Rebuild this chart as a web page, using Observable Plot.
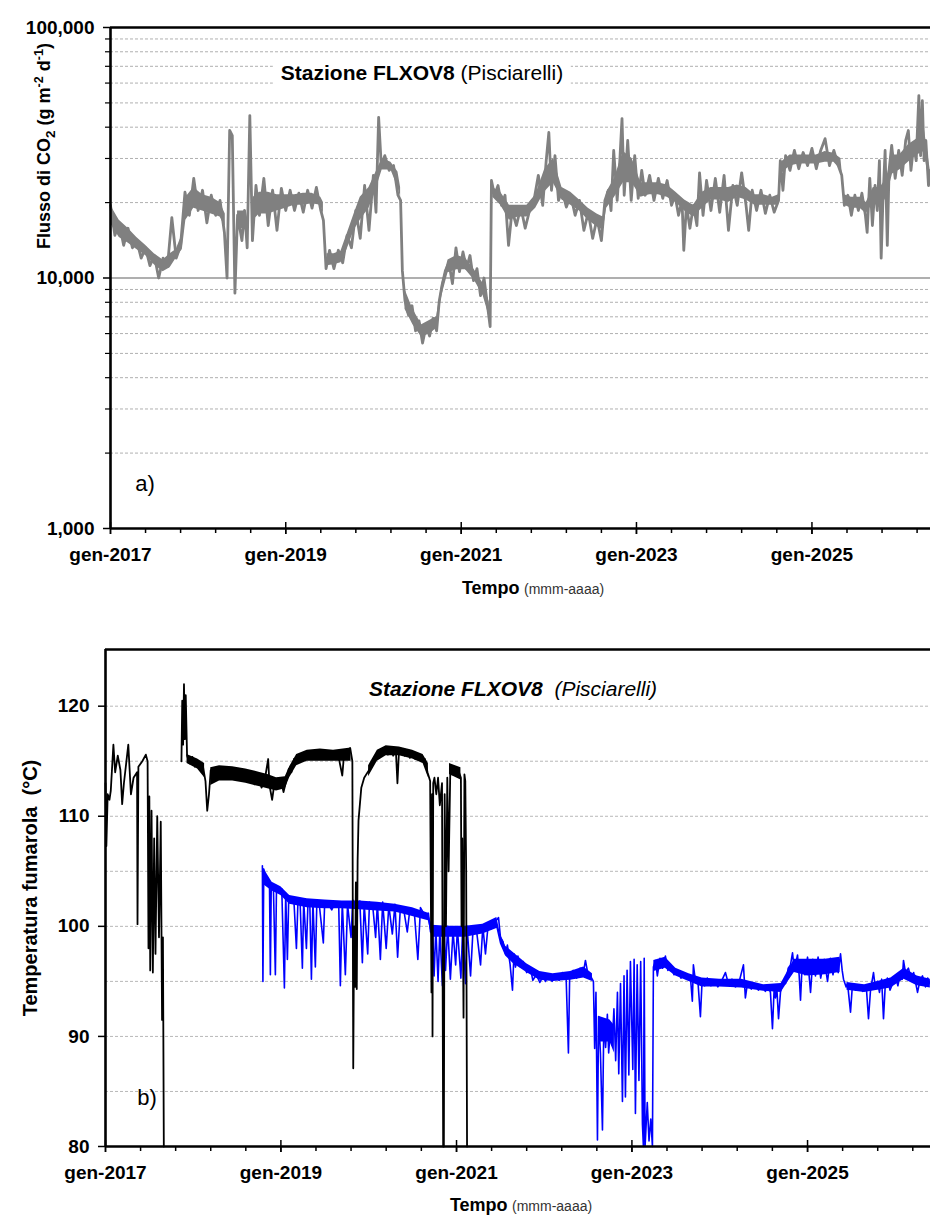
<!DOCTYPE html>
<html><head><meta charset="utf-8">
<script src="https://cdn.jsdelivr.net/npm/d3@7"></script>
<script src="https://cdn.jsdelivr.net/npm/@observablehq/plot@0.6"></script>
<style>
body{margin:0;background:#fff;font-family:"Liberation Sans",Arial,sans-serif;}
#wrap{position:relative;width:930px;height:1216px;overflow:hidden;background:#fff;}
#wrap svg{position:absolute;left:0;}
.abs{position:absolute;white-space:nowrap;color:#000;line-height:1;}
.c{transform:translate(-50%,-50%);}
.rot{transform:translate(-50%,-50%) rotate(-90deg);}
sub,sup{font-size:0.7em;}
</style></head><body><div id="wrap"></div>
<script>
// ---------- DATA ----------
// Panel a) CO2 flux, [decimal year, g m-2 d-1]
const fluxSeries = [
[2017.00,19500],[2017.05,14800],[2017.10,16600],[2017.15,13500],[2017.20,15800],[2017.25,13200],[2017.30,14100],[2017.35,12000],[2017.40,13200],[2017.45,11200],[2017.50,12300],[2017.55,10000],[2017.60,12000],[2017.65,11100],[2017.70,17400],[2017.75,12000],[2017.80,13500],[2017.85,22000],[2017.90,17800],[2017.95,25000],
[2018.00,18600],[2018.05,22400],[2018.10,16600],[2018.15,21400],[2018.20,17800],[2018.25,20400],[2018.30,15200],[2018.33,10000],[2018.36,38800],[2018.39,37000],[2018.42,8700],[2018.45,17800],[2018.50,14100],[2018.53,18600],[2018.56,13200],[2018.59,44500],[2018.62,14100],[2018.66,23400],[2018.70,17800],[2018.75,25000],[2018.80,16200],[2018.85,22400],[2018.90,15500],[2018.95,22800],
[2019.00,18600],[2019.05,22400],[2019.10,18600],[2019.15,21800],[2019.20,18300],[2019.25,22400],[2019.30,19000],[2019.35,23000],[2019.40,18600],[2019.43,17000],[2019.46,10900],[2019.50,12900],[2019.55,10900],[2019.60,12900],[2019.65,11500],[2019.70,14800],[2019.75,13200],[2019.80,18600],[2019.85,14400],[2019.90,23400],[2019.95,15500],
[2020.00,25700],[2020.03,18300],[2020.06,43800],[2020.09,28100],[2020.13,30800],[2020.18,26900],[2020.23,28100],[2020.28,21400],[2020.31,20400],[2020.33,10700],[2020.36,8100],[2020.40,7100],[2020.44,7750],[2020.48,6150],[2020.52,6740],[2020.56,5500],[2020.60,6440],[2020.64,5870],[2020.68,6900],[2020.72,6150],[2020.75,8100],[2020.78,9300],[2020.82,10700],[2020.86,11500],[2020.90,9500],[2020.94,13200],[2020.98,10600],
[2021.02,12700],[2021.06,10900],[2021.10,12300],[2021.14,9760],[2021.18,10900],[2021.22,8500],[2021.26,10000],[2021.30,7750],[2021.33,6400],[2021.345,24500],[2021.38,21400],[2021.42,23400],[2021.46,19500],[2021.50,21400],[2021.54,13500],[2021.58,18600],[2021.63,16200],[2021.68,19200],[2021.73,15800],[2021.78,18600],[2021.83,20400],[2021.88,25700],[2021.93,19500],[2021.97,29400],
[2022.00,38100],[2022.03,22400],[2022.07,30800],[2022.11,20400],[2022.15,22400],[2022.20,19200],[2022.25,21400],[2022.30,17800],[2022.35,20400],[2022.40,15500],[2022.45,18300],[2022.50,14400],[2022.55,17300],[2022.60,14100],[2022.64,20400],[2022.68,22400],[2022.71,18600],[2022.74,32300],[2022.78,20400],[2022.81,29400],[2022.835,43300],[2022.86,21400],[2022.90,35400],[2022.94,20400],[2022.98,30800],
[2023.02,20800],[2023.06,26900],[2023.10,21400],[2023.15,25700],[2023.20,20400],[2023.25,25000],[2023.30,20800],[2023.35,24500],[2023.40,19500],[2023.44,21400],[2023.48,17800],[2023.52,20400],[2023.54,12900],[2023.57,19500],[2023.61,15800],[2023.65,19500],[2023.69,16200],[2023.72,26300],[2023.76,17800],[2023.80,24500],[2023.85,18600],[2023.90,25000],[2023.95,18300],
[2024.00,25700],[2024.05,15500],[2024.10,23400],[2024.15,19500],[2024.20,26300],[2024.25,19500],[2024.28,15500],[2024.32,22400],[2024.37,18600],[2024.42,22400],[2024.47,18100],[2024.52,21400],[2024.57,18300],[2024.62,20400],[2024.64,29400],[2024.67,22400],[2024.70,30800],[2024.75,26900],[2024.80,32300],[2024.85,27300],[2024.90,31700],[2024.95,28100],
[2025.00,32900],[2025.05,27300],[2025.10,32300],[2025.15,36000],[2025.20,28100],[2025.25,32300],[2025.30,28100],[2025.34,25700],[2025.37,19500],[2025.41,21400],[2025.45,17800],[2025.49,21400],[2025.53,18600],[2025.57,21800],[2025.61,17800],[2025.63,15200],[2025.66,25000],[2025.69,16200],[2025.72,23400],[2025.745,18600],[2025.77,29400],[2025.79,12000],[2025.81,20400],[2025.835,32300],[2025.86,13500],[2025.88,26900],[2025.91,33800],[2025.95,25000],[2025.99,32300],
[2026.03,25700],[2026.07,35400],[2026.10,38800],[2026.13,26900],[2026.16,33800],[2026.19,29400],[2026.22,53500],[2026.24,30800],[2026.26,51000],[2026.28,29400],[2026.30,35400],[2026.33,23400],[2026.35,26900]
];
// dense core of the flux record: [decimal year, low, high] (NaN = gap)
const fluxBand = [
[2017.00,16500,19500],[2017.10,14500,17000],[2017.20,13800,15800],[2017.30,13000,14500],[2017.40,12300,13500],[2017.50,11300,12500],[2017.60,10600,11800],[2017.68,11000,12500],[2017.75,12000,13000],[2017.82,13000,15000],[2017.86,17000,21000],[2017.95,19000,23000],
[2018.05,18500,21500],[2018.15,18000,21000],[2018.25,17500,20000],[2018.31,16000,18000],[2018.32,NaN,NaN],[2018.45,16000,18500],[2018.55,15500,18500],[2018.57,NaN,NaN],[2018.63,17000,21000],[2018.70,18000,22000],[2018.80,18000,22000],[2018.90,18500,21500],
[2019.00,19000,21500],[2019.10,19500,21500],[2019.20,19500,21800],[2019.30,19800,21800],[2019.40,19500,21000],[2019.43,18000,20000],[2019.44,NaN,NaN],[2019.47,11200,12500],[2019.55,11300,12500],[2019.63,11500,12800],[2019.70,13000,15000],[2019.78,15500,18000],[2019.85,17000,21000],[2019.95,19000,23000],
[2020.02,22000,26000],[2020.10,27000,30000],[2020.20,27000,29000],[2020.28,23000,26500],[2020.31,21000,23000],[2020.32,NaN,NaN],[2020.36,7500,9000],[2020.45,6500,7500],[2020.55,5800,6500],[2020.65,6000,6800],[2020.72,6300,7000],[2020.78,8500,9500],[2020.85,10500,11800],[2020.95,10800,12300],
[2021.05,10800,12000],[2021.15,9800,10800],[2021.25,8500,9500],[2021.32,7000,8000],[2021.33,NaN,NaN],[2021.36,21000,23000],[2021.45,19500,22000],[2021.55,17000,19500],[2021.65,17500,19500],[2021.75,17500,19500],[2021.85,19000,21500],[2021.95,22000,27000],
[2022.05,24000,30000],[2022.15,20500,23000],[2022.25,19500,22000],[2022.35,18500,20500],[2022.45,17000,19000],[2022.55,16000,18000],[2022.62,15500,17500],[2022.66,19000,22000],[2022.75,21000,25000],[2022.85,24000,32000],[2022.95,24000,30000],
[2023.05,21000,24000],[2023.15,21500,24000],[2023.25,21500,24000],[2023.35,21000,23500],[2023.45,20000,22000],[2023.55,18500,20500],[2023.65,17500,19500],[2023.75,19000,22000],[2023.85,20500,23000],[2023.95,20500,23000],
[2024.05,20000,23000],[2024.15,21000,23500],[2024.25,20500,23000],[2024.35,19500,21500],[2024.45,19500,21500],[2024.55,19500,21000],[2024.62,19500,21500],[2024.65,26000,29000],[2024.75,28000,31000],[2024.85,28500,31000],[2024.95,28500,31000],
[2025.05,28500,31000],[2025.15,29000,32000],[2025.25,29000,31500],[2025.33,27000,30000],[2025.37,19500,21500],[2025.45,19000,21000],[2025.55,19000,21000],[2025.62,18000,20000],[2025.70,20000,23000],[2025.78,19000,23000],[2025.85,21000,25000],[2025.92,26000,31000],
[2026.00,27000,31000],[2026.10,29000,34000],[2026.20,31000,36000],[2026.28,32000,40000],[2026.35,23000,27000]
];
const fluxMajorTicks = [1000, 10000, 100000];
const fluxGrid = [2000,3000,4000,5000,6000,7000,8000,9000,20000,30000,40000,50000,60000,70000,80000,90000];
const fluxDomain = [1000, 100000];

// Panel b) fumarole temperature, [decimal year, °C]
const tempBlackEarly = [
[2017.000,113.0],[2017.010,107.3],[2017.025,112.0],[2017.045,111.5],[2017.060,112.3],[2017.090,116.5],[2017.110,114.0],[2017.140,115.5],[2017.170,114.2],[2017.190,111.1],[2017.210,113.0],[2017.260,116.5],[2017.290,112.0],[2017.320,113.5],[2017.360,114.0],[2017.365,100.2],[2017.375,114.5],[2017.420,115.0],[2017.460,115.6],[2017.480,115.0],[2017.490,98.0],[2017.500,111.8],[2017.510,96.0],[2017.525,110.5],[2017.540,95.8],[2017.555,108.0],[2017.570,97.5],[2017.590,110.0],[2017.610,99.0],[2017.630,109.5],[2017.645,91.5],[2017.655,99.0],[2017.665,80.0]
];
const tempBlackLate = [
[2017.866,115.0],[2017.875,120.5],[2017.885,116.5],[2017.895,122.0],[2017.905,117.0],[2017.915,121.0],[2017.930,115.5],[2017.960,114.8],[2017.990,115.4],[2018.020,114.5],[2018.050,115.0],[2018.080,114.3],[2018.110,114.6],[2018.140,113.2],[2018.160,110.5],[2018.180,112.0],[2018.200,114.2],[2018.230,113.3],[2018.260,114.4],[2018.300,113.5],[2018.340,114.3],[2018.380,113.6],[2018.420,114.3],[2018.460,113.5],[2018.500,114.2],[2018.540,113.4],[2018.580,114.0],[2018.620,113.2],[2018.660,113.9],[2018.700,112.9],[2018.740,113.7],[2018.780,112.6],[2018.820,113.5],[2018.855,115.2],[2018.870,112.8],[2018.900,111.5],[2018.930,113.2],[2018.960,112.6],[2019.000,113.3],[2019.030,112.2],[2019.060,113.2],[2019.090,114.3],[2019.120,114.0],[2019.150,115.2],[2019.190,114.9],[2019.230,115.6],[2019.270,115.3],[2019.310,115.9],[2019.350,115.2],[2019.390,116.0],[2019.430,115.3],[2019.470,116.0],[2019.510,115.4],[2019.550,115.9],[2019.590,115.2],[2019.630,115.8],[2019.665,115.1],[2019.700,113.7],[2019.720,115.6],[2019.760,115.2],[2019.790,116.2],[2019.815,115.0],[2019.825,87.1],[2019.835,100.0],[2019.845,94.5],[2019.855,104.0],[2019.865,94.3],[2019.875,106.0],[2019.885,109.6],[2019.917,112.6],[2019.950,113.5],[2019.997,114.1],[2020.060,115.0],[2020.134,115.7],[2020.191,116.3],[2020.220,115.6],[2020.250,116.2],[2020.280,115.5],[2020.310,116.0],[2020.328,113.0],[2020.345,115.8],[2020.380,116.1],[2020.410,115.5],[2020.440,116.0],[2020.470,115.3],[2020.500,115.8],[2020.530,115.2],[2020.560,115.6],[2020.600,115.0],[2020.640,115.2],[2020.670,114.0],[2020.700,113.2],[2020.715,94.0],[2020.722,112.0],[2020.727,90.0],[2020.735,113.0],[2020.749,113.5],[2020.770,112.0],[2020.790,113.5],[2020.810,111.0],[2020.835,113.0],[2020.848,80.0],[2020.856,80.0],[2020.865,112.0],[2020.880,100.0],[2020.895,113.5],[2020.910,105.0],[2020.930,114.5],[2020.950,113.8],[2020.970,114.3],[2020.990,113.9],[2021.020,114.2],[2021.050,113.5],[2021.057,100.0],[2021.065,108.0],[2021.080,91.7],[2021.090,113.8],[2021.100,113.2],[2021.110,105.0],[2021.120,80.0]
];
// dense core of the black record: [decimal year, low, high]
const tempBlackBand = [
[2017.93,114.8,115.6],[2018.05,114.3,115.2],[2018.13,113.5,114.8],[2018.15,NaN,NaN],[2018.20,112.8,114.4],[2018.30,113.2,114.6],[2018.45,113.2,114.5],[2018.60,113.0,114.3],[2018.75,112.7,114.0],[2018.85,112.5,113.8],[2018.95,112.3,113.5],[2019.05,112.5,113.6],[2019.10,113.5,114.5],[2019.18,114.6,115.6],[2019.30,115.0,116.0],[2019.45,115.0,116.1],[2019.60,115.0,116.0],[2019.80,115.0,116.2],[2019.81,NaN,NaN],
[2020.00,113.6,114.6],[2020.10,115.0,116.0],[2020.20,115.5,116.4],[2020.35,115.5,116.3],[2020.50,115.2,116.0],[2020.62,114.8,115.6],[2020.68,113.5,114.8],[2020.69,NaN,NaN],[2020.92,113.8,114.8],[2021.05,113.3,114.4]
];
const tempBlue = [
[2018.789,105.5],[2018.795,95.0],[2018.805,105.2],[2018.820,104.6],[2018.846,104.4],[2018.870,103.8],[2018.880,95.6],[2018.890,103.8],[2018.915,103.4],[2018.937,95.6],[2018.950,103.6],[2018.985,103.2],[2019.010,103.4],[2019.040,94.4],[2019.055,103.0],[2019.074,97.0],[2019.090,102.8],[2019.110,102.3],[2019.131,102.6],[2019.150,102.1],[2019.177,98.0],[2019.195,102.4],[2019.220,102.0],[2019.245,96.2],[2019.260,102.3],[2019.291,98.0],[2019.310,102.4],[2019.330,102.0],[2019.348,95.2],[2019.365,102.3],[2019.393,96.3],[2019.410,102.2],[2019.440,101.8],[2019.484,98.5],[2019.500,102.3],[2019.540,102.0],[2019.580,101.5],[2019.620,102.2],[2019.660,101.7],[2019.678,94.6],[2019.700,102.2],[2019.735,95.6],[2019.760,102.0],[2019.800,99.0],[2019.820,102.4],[2019.860,101.8],[2019.900,102.3],[2019.929,96.7],[2019.950,102.0],[2019.990,97.5],[2020.010,102.2],[2020.050,101.6],[2020.080,99.0],[2020.100,102.1],[2020.134,97.0],[2020.160,102.2],[2020.200,98.0],[2020.230,101.9],[2020.270,99.3],[2020.300,102.0],[2020.330,97.2],[2020.362,101.8],[2020.400,101.5],[2020.440,99.5],[2020.470,101.6],[2020.520,101.3],[2020.560,97.0],[2020.590,101.7],[2020.640,101.0],[2020.680,101.2],[2020.704,99.5],[2020.727,100.0],[2020.745,95.5],[2020.765,99.8],[2020.790,95.0],[2020.810,99.6],[2020.840,94.6],[2020.860,99.8],[2020.875,96.0],[2020.900,100.0],[2020.930,95.2],[2020.960,99.6],[2020.990,96.5],[2021.010,99.8],[2021.050,95.3],[2021.070,99.9],[2021.103,94.8],[2021.120,100.0],[2021.160,95.5],[2021.190,100.0],[2021.230,99.5],[2021.274,96.5],[2021.300,100.0],[2021.330,97.5],[2021.360,100.1],[2021.400,99.8],[2021.440,100.4],[2021.479,100.8],[2021.501,99.0],[2021.530,98.6],[2021.558,97.5],[2021.580,98.3],[2021.610,96.6],[2021.638,94.2],[2021.655,97.5],[2021.672,96.3],[2021.700,97.3],[2021.730,96.3],[2021.760,96.8],[2021.800,95.8],[2021.843,96.2],[2021.870,95.1],[2021.910,95.6],[2021.950,94.9],[2021.990,95.5],[2022.014,95.0],[2022.050,95.6],[2022.090,95.0],[2022.130,95.5],[2022.170,95.1],[2022.210,95.8],[2022.250,95.3],[2022.276,88.5],[2022.290,95.4],[2022.330,96.0],[2022.370,95.3],[2022.410,96.2],[2022.440,95.5],[2022.470,96.9],[2022.500,95.6],[2022.527,95.5],[2022.561,95.0],[2022.575,88.9],[2022.590,94.0],[2022.607,80.6],[2022.620,91.8],[2022.641,88.5],[2022.664,81.5],[2022.680,91.5],[2022.700,89.0],[2022.720,92.0],[2022.735,88.5],[2022.755,90.8],[2022.775,89.2],[2022.795,92.5],[2022.815,87.8],[2022.835,94.0],[2022.850,86.6],[2022.870,94.8],[2022.892,84.1],[2022.910,95.5],[2022.926,84.5],[2022.945,96.0],[2022.965,86.5],[2022.983,96.8],[2023.010,87.0],[2023.025,97.0],[2023.040,83.0],[2023.060,96.5],[2023.080,86.0],[2023.100,96.8],[2023.120,82.0],[2023.131,80.0],[2023.140,97.1],[2023.150,80.0],[2023.175,84.0],[2023.195,80.5],[2023.215,82.5],[2023.234,80.0],[2023.245,96.3],[2023.270,96.9],[2023.290,95.5],[2023.320,97.1],[2023.350,96.2],[2023.382,97.3],[2023.410,96.0],[2023.439,96.4],[2023.480,95.6],[2023.520,96.0],[2023.560,95.3],[2023.600,95.6],[2023.640,95.2],[2023.667,95.4],[2023.689,93.2],[2023.701,96.5],[2023.725,95.0],[2023.750,95.3],[2023.781,91.8],[2023.800,95.0],[2023.830,94.6],[2023.860,95.3],[2023.900,94.6],[2023.940,95.1],[2023.980,94.5],[2024.020,95.0],[2024.066,95.8],[2024.100,94.8],[2024.140,95.2],[2024.180,94.5],[2024.220,94.9],[2024.271,96.5],[2024.293,93.5],[2024.316,94.8],[2024.360,94.3],[2024.400,94.7],[2024.440,94.2],[2024.480,94.6],[2024.520,94.1],[2024.560,94.4],[2024.578,94.0],[2024.601,90.7],[2024.620,94.3],[2024.635,93.5],[2024.650,94.5],[2024.670,91.6],[2024.692,94.0],[2024.720,95.0],[2024.750,94.8],[2024.780,96.2],[2024.806,96.5],[2024.829,97.6],[2024.850,96.0],[2024.886,97.4],[2024.905,95.5],[2024.920,93.3],[2024.940,96.8],[2024.970,95.6],[2025.000,97.2],[2025.034,94.0],[2025.060,97.0],[2025.090,95.5],[2025.120,97.2],[2025.150,95.3],[2025.190,97.0],[2025.228,95.0],[2025.260,97.1],[2025.290,95.6],[2025.320,96.9],[2025.350,95.8],[2025.376,97.5],[2025.395,96.0],[2025.410,95.2],[2025.440,94.5],[2025.456,94.8],[2025.490,92.2],[2025.510,94.5],[2025.550,94.2],[2025.590,94.6],[2025.630,94.1],[2025.670,94.5],[2025.695,91.6],[2025.718,94.2],[2025.752,95.8],[2025.775,94.3],[2025.798,95.0],[2025.820,94.0],[2025.845,95.2],[2025.866,91.6],[2025.885,94.5],[2025.910,95.3],[2025.940,94.2],[2025.980,95.0],[2026.003,95.5],[2026.030,94.6],[2026.060,95.8],[2026.080,95.2],[2026.094,96.9],[2026.117,95.8],[2026.150,96.2],[2026.180,95.3],[2026.210,95.8],[2026.254,94.0],[2026.280,95.0],[2026.311,95.5],[2026.345,94.5],[2026.370,95.3],[2026.402,94.7]
];
// dense core of the blue record: [decimal year, low, high]
const tempBlueBand = [
[2018.80,103.8,105.3],[2018.90,103.2,104.0],[2019.00,102.8,103.6],[2019.10,102.0,102.8],[2019.30,101.7,102.5],[2019.50,101.6,102.4],[2019.70,101.6,102.3],[2019.90,101.5,102.3],[2020.10,101.4,102.2],[2020.30,101.3,102.0],[2020.50,100.9,101.7],[2020.68,100.5,101.2],
[2020.72,99.0,100.1],[2020.90,99.0,100.0],[2021.10,99.0,100.0],[2021.30,99.3,100.2],[2021.46,99.8,100.8],[2021.50,98.4,99.3],[2021.56,97.3,98.2],[2021.65,96.6,97.6],[2021.80,95.8,96.6],[2021.95,95.1,95.9],[2022.10,95.0,95.7],[2022.30,95.1,95.9],[2022.45,95.3,96.3],[2022.55,95.0,95.7],[2022.56,NaN,NaN],
[2022.63,89.5,91.8],[2022.75,89.5,91.5],[2022.80,88.5,91.0],[2022.81,NaN,NaN],
[2023.25,95.9,96.9],[2023.38,96.2,97.2],[2023.50,95.5,96.2],[2023.65,95.0,95.7],[2023.80,94.5,95.3],[2024.00,94.5,95.2],[2024.25,94.4,95.2],[2024.50,94.1,94.7],[2024.70,94.0,94.8],[2024.78,95.0,96.0],[2024.85,95.8,97.0],[2025.00,95.5,97.0],[2025.20,95.6,97.0],[2025.37,95.8,97.2],[2025.40,NaN,NaN],
[2025.45,94.2,94.9],[2025.65,94.0,94.7],[2025.80,94.2,95.0],[2025.95,94.4,95.3],[2026.10,95.2,96.2],[2026.25,94.6,95.5],[2026.40,94.4,95.2]
];
const tempMajorTicks = [80, 90, 100, 110, 120];
const tempGrid = [85, 90, 95, 100, 105, 110, 115, 120];
const tempDomain = [80, 125.15];

// Shared time axis
const xMajorYears = [2017, 2019, 2021, 2023, 2025];
const xMinorYears = [2017.4,2017.8,2018.2,2018.6,2019.4,2019.8,2020.2,2020.6,2021.4,2021.8,2022.2,2022.6,2023.4,2023.8,2024.2,2024.6,2025.4,2025.8,2026.2];
const xStartYear = 2017;
const xEndYearA = 2026.353;
const xEndYearB = 2026.402;

// ---------- HELPERS ----------
function toDate(yr){const y=Math.floor(yr);const s=Date.UTC(y,0,1),e=Date.UTC(y+1,0,1);return new Date(s+(yr-y)*(e-s));}
const majorDates = xMajorYears.map(toDate);
const minorDates = xMinorYears.map(toDate);
const fmtX = d => "gen-" + d.getUTCFullYear();
const font = "'Liberation Sans', Arial, sans-serif";
const X = d => toDate(d[0]), Y = d => d[1], LO = d => d[1], HI = d => d[2];

function timeAxes(ymin){
  return [
    Plot.axisX({ticks: minorDates, tickSize: 5, tickFormat: () => "", label: null, stroke: "#000", strokeWidth: 1.5}),
    Plot.axisX({ticks: majorDates, tickSize: 6, tickPadding: 13, tickFormat: fmtX, fontSize: 19, fontWeight: "bold", fill: "#000", label: null, stroke: "#000", strokeWidth: 1.5}),
    Plot.ruleX(majorDates, {x: d => d, y1: ymin, y2: ymin, insetTop: -6, insetBottom: -6, stroke: "#000", strokeWidth: 1.5})
  ];
}

// ---------- PANEL A ----------
const plotA = Plot.plot({
  width: 930, height: 600,
  marginLeft: 110, marginRight: 0, marginTop: 27, marginBottom: 72,
  style: {fontFamily: font, background: "transparent", color: "#000", overflow: "visible"},
  x: {type: "utc", domain: [toDate(xStartYear), toDate(xEndYearA)]},
  y: {type: "log", domain: fluxDomain},
  marks: [
    Plot.ruleY(fluxGrid, {stroke: "#b0b0b0", strokeWidth: 1, strokeDasharray: "3,2"}),
    Plot.ruleY([10000], {stroke: "#606060", strokeWidth: 1.2}),
    Plot.areaY(fluxBand, {x: X, y1: LO, y2: HI, fill: "#808080", curve: "linear"}),
    Plot.line(fluxSeries, {x: X, y: Y, stroke: "#808080", strokeWidth: 2.8, strokeLinejoin: "round"}),
    Plot.axisY({ticks: fluxGrid, tickSize: 5, tickFormat: () => "", label: null, strokeWidth: 1.2}),
    Plot.axisY({ticks: fluxMajorTicks, tickSize: 7, tickPadding: 9, tickFormat: d3.format(","), fontSize: 19, fontWeight: "bold", fill: "#000", label: null, strokeWidth: 1.5}),
    ...timeAxes(fluxDomain[0]),
    Plot.ruleX([toDate(xStartYear)], {stroke: "#000", strokeWidth: 2.6}),
    Plot.ruleY([fluxDomain[0]], {stroke: "#000", strokeWidth: 2.6}),
    Plot.ruleY([fluxDomain[1]], {stroke: "#000", strokeWidth: 2.6})
  ]
});

// ---------- PANEL B ----------
const plotB = Plot.plot({
  width: 930, height: 616,
  marginLeft: 105, marginRight: 0, marginTop: 49, marginBottom: 70,
  style: {fontFamily: font, background: "transparent", color: "#000", overflow: "visible"},
  x: {type: "utc", domain: [toDate(xStartYear), toDate(xEndYearB)]},
  y: {domain: tempDomain},
  marks: [
    Plot.ruleY(tempGrid, {stroke: "#b8b8b8", strokeWidth: 1, strokeDasharray: "3,2"}),
    Plot.areaY(tempBlueBand, {x: X, y1: LO, y2: HI, fill: "#0000ff"}),
    Plot.line(tempBlue, {x: X, y: Y, stroke: "#0000ff", strokeWidth: 1.6, strokeLinejoin: "round"}),
    Plot.areaY(tempBlackBand, {x: X, y1: LO, y2: HI, fill: "#000"}),
    Plot.line(tempBlackEarly, {x: X, y: Y, stroke: "#000", strokeWidth: 1.8, strokeLinejoin: "round"}),
    Plot.line(tempBlackLate, {x: X, y: Y, stroke: "#000", strokeWidth: 1.8, strokeLinejoin: "round"}),
    Plot.axisY({ticks: tempMajorTicks, tickSize: 7, tickPadding: 9, fontSize: 19, fontWeight: "bold", fill: "#000", label: null, strokeWidth: 1.5}),
    ...timeAxes(tempDomain[0]),
    Plot.ruleX([toDate(xStartYear)], {stroke: "#000", strokeWidth: 2.6}),
    Plot.ruleY([tempDomain[0]], {stroke: "#000", strokeWidth: 2.6}),
    Plot.ruleY([tempDomain[1]], {stroke: "#000", strokeWidth: 2.6})
  ]
});

const wrap = document.getElementById("wrap");
plotA.style.top = "0px";
plotB.style.top = "600px";
wrap.appendChild(plotA);
wrap.appendChild(plotB);

function addText(html, cls, left, top, css){
  const d = document.createElement("div");
  d.className = "abs " + cls;
  d.style.left = left + "px"; d.style.top = top + "px";
  Object.assign(d.style, css || {});
  d.innerHTML = html;
  wrap.appendChild(d);
}
// Panel a texts
addText('<b>Stazione FLXOV8</b> (Pisciarelli)', "c", 422, 72, {fontSize: "21px", background: "#fff", padding: "3px 8px"});
addText('<b>Flusso di CO<sub style="font-size:0.75em">2</sub> (g m<sup>-2</sup> d<sup>-1</sup>)</b>', "rot", 45, 146, {fontSize: "18px"});
addText('a)', "c", 145, 484, {fontSize: "22px"});
addText('<b style="font-size:18px">Tempo</b> <span style="font-size:14px;color:#333">(mmm-aaaa)</span>', "c", 533, 588, {});
// Panel b texts
addText('<b>Stazione FLXOV8</b>&nbsp; (Pisciarelli)', "c", 513, 688, {fontSize: "21px", fontStyle: "italic", background: "#fff", padding: "6px 24px"});
addText('<b>Temperatura fumarola&nbsp; (°C)</b>', "rot", 30, 888, {fontSize: "20px"});
addText('b)', "c", 147, 1098, {fontSize: "22px"});
addText('<b style="font-size:18px">Tempo</b> <span style="font-size:14px;color:#333">(mmm-aaaa)</span>', "c", 521, 1205, {});
</script>
</body></html>
